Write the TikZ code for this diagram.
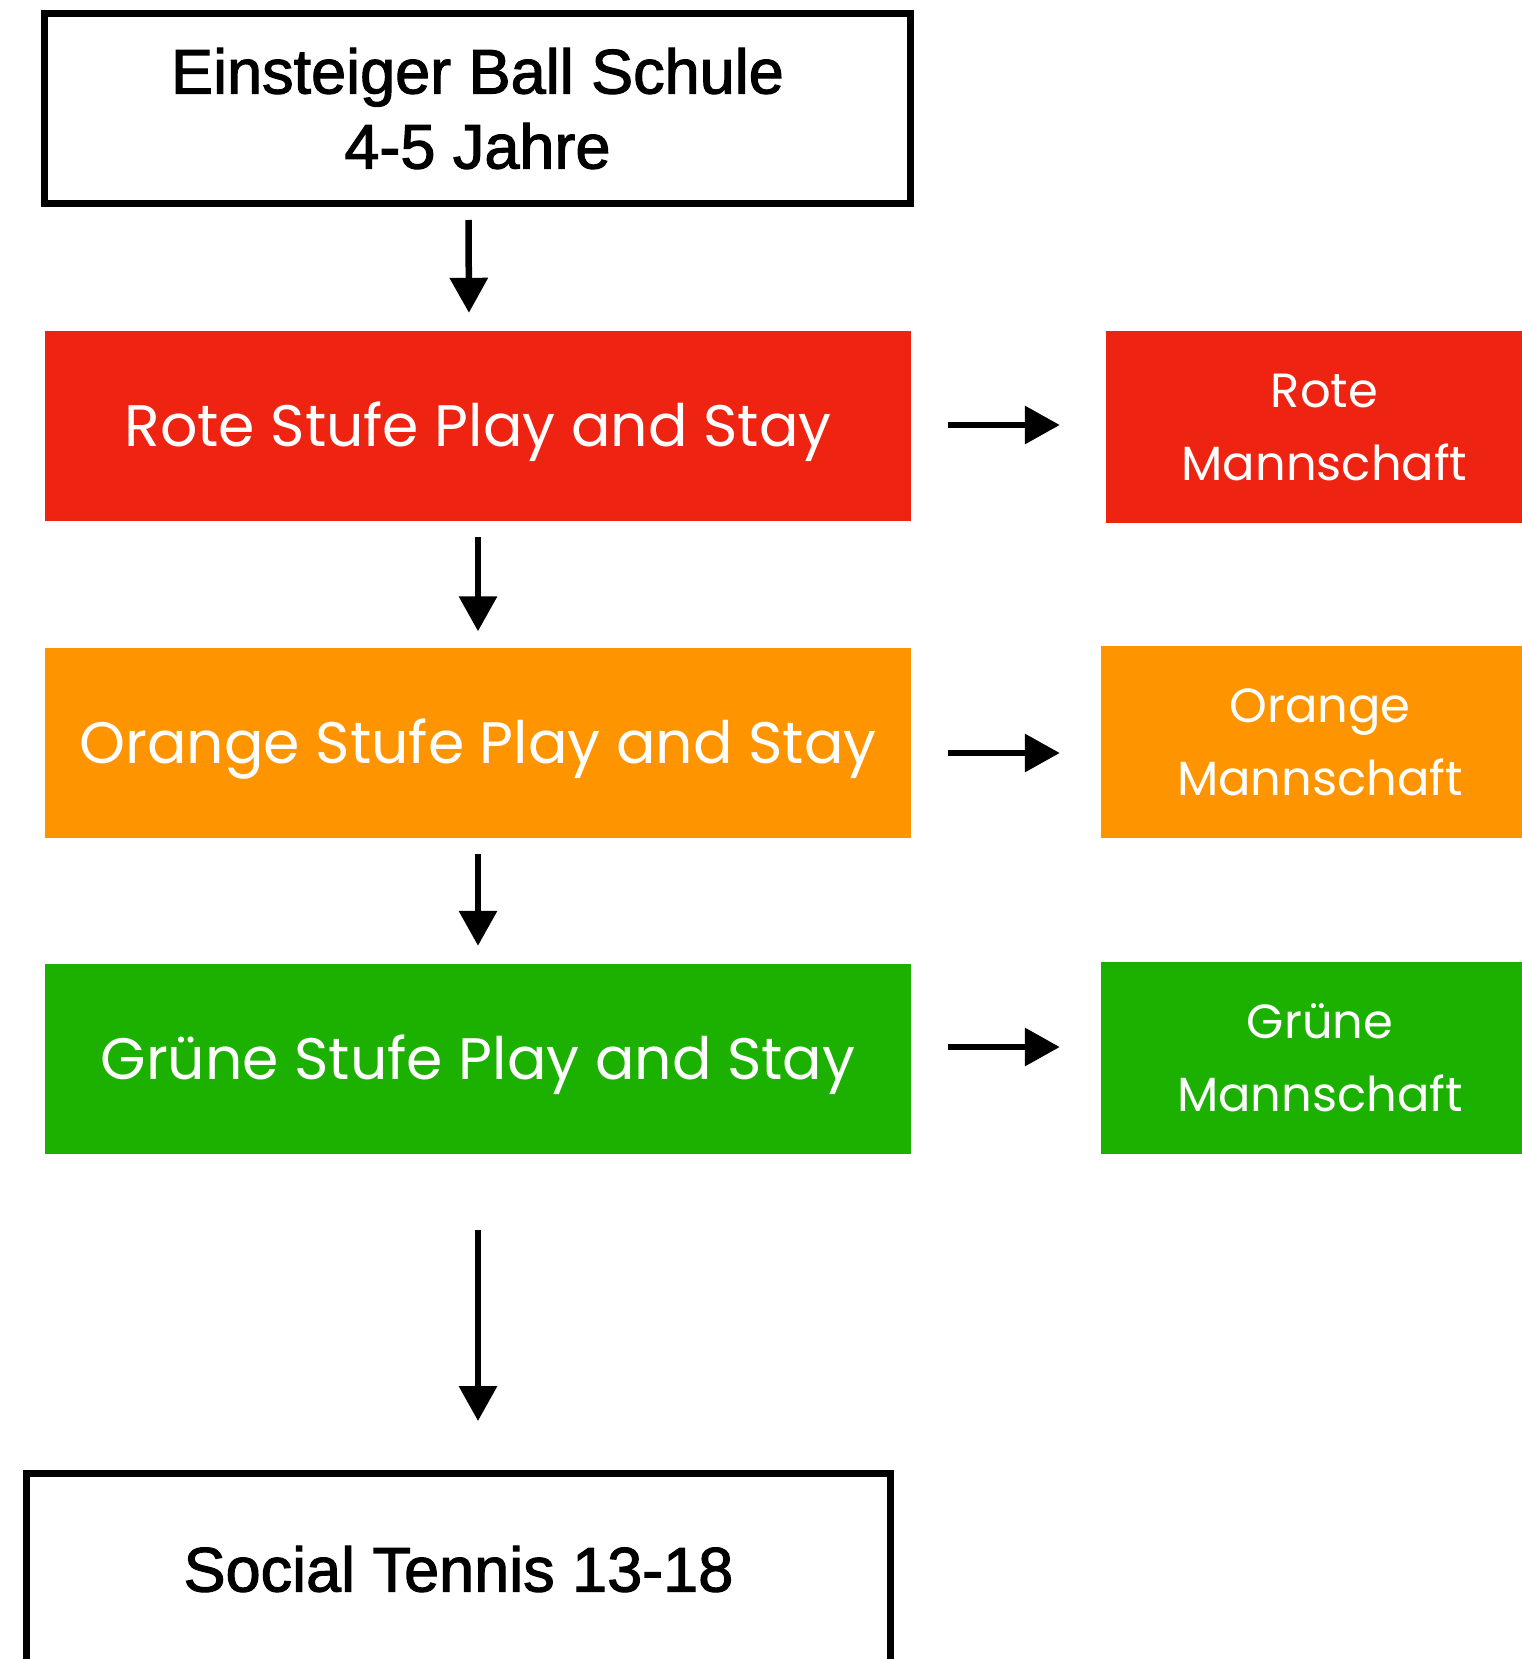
\documentclass[tikz,border=0pt]{standalone}
\usepackage{fontspec}
\setmainfont[FakeBold=1.8]{Liberation Sans}
\newfontfamily\avfont{Poppins}
\usetikzlibrary{arrows.meta}
\definecolor{stred}{HTML}{EE2311}
\definecolor{storange}{HTML}{FE9400}
\definecolor{stgreen}{HTML}{1CB000}
\tikzset{
  plainbox/.style={draw=black, line width=7pt, minimum width=866pt, minimum height=190pt, inner sep=0pt, align=center, font=\fontsize{63}{75}\selectfont},
  stufebox/.style={fill=#1, draw=none, minimum width=866pt, minimum height=190pt, inner sep=0pt, text=white, text height=46pt, text depth=6pt, font=\avfont\fontsize{58.5}{70}\selectfont},
  teambox/.style={fill=#1, draw=none, minimum width=438pt, minimum height=192pt, inner sep=0pt, text=white, align=center, font=\avfont\fontsize{48}{73}\selectfont},
  flow/.style={line width=6.5pt, -{Triangle[length=35pt,width=37pt]}}
}
\begin{document}
\begin{tikzpicture}[x=1pt,y=-1pt]
\useasboundingbox (0,0) rectangle (1522,1659);
\clip (0,0) rectangle (1522,1659);
\node[plainbox] (top) at (477.5,108.5) {Einsteiger Ball Schule\\4-5 Jahre};
\node[stufebox=stred] (red) at (478,426) {Rote Stufe Play and Stay};
\node[stufebox=storange] (orange) at (478,743) {Orange Stufe Play and Stay};
\node[stufebox=stgreen] (green) at (478,1059) {Grüne Stufe Play and Stay};
\node[plainbox, minimum width=864pt, minimum height=191pt] (social) at (458.5,1569) {Social Tennis 13-18};
\node[teambox=stred, minimum width=437pt] (redteam) at (1324.5,427) {Rote\\Mannschaft};
\node[teambox=storange] (orangeteam) at (1320,742) {Orange\\Mannschaft};
\node[teambox=stgreen] (greenteam) at (1320,1058) {Grüne\\Mannschaft};
\draw[flow, shorten <=13pt, shorten >=18pt] ([xshift=-9pt]top.south) -- ([xshift=-9pt]red.north);
\draw[flow, shorten <=16pt, shorten >=16.5pt] (red) -- (orange);
\draw[flow, shorten <=15.5pt, shorten >=18pt] (orange) -- (green);
\draw[flow, shorten <=76pt, shorten >=49pt] (green.south) -- (green.south |- social.north);
\draw[flow, shorten <=37pt, shorten >=46pt] ([yshift=1pt]red.east) -- ([yshift=1pt]red.east -| redteam.west);
\draw[flow, shorten <=37pt, shorten >=41pt] ([yshift=-10pt]orange.east) -- ([yshift=-10pt]orange.east -| orangeteam.west);
\draw[flow, shorten <=37pt, shorten >=41pt] ([yshift=12pt]green.east) -- ([yshift=12pt]green.east -| greenteam.west);
\end{tikzpicture}
\end{document}
